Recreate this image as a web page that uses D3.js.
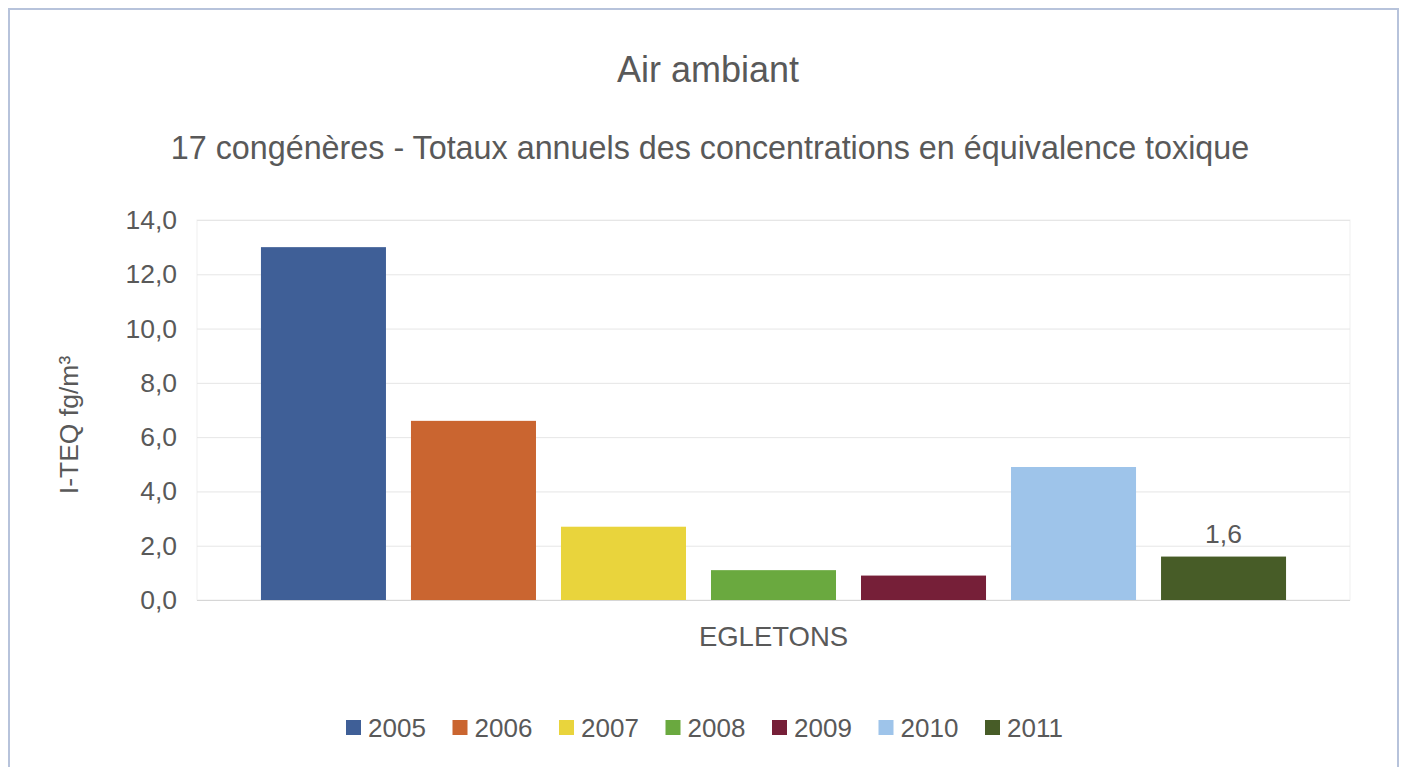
<!DOCTYPE html>
<html>
<head>
<meta charset="utf-8">
<script src="https://cdn.jsdelivr.net/npm/d3@7"></script>
<style>
  html, body { margin: 0; padding: 0; background: #fff; }
  text { font-family: "Liberation Sans", Arial, sans-serif; fill: #595959; }
</style>
</head>
<body>
<svg id="chart" width="1408" height="767"></svg>
<script>
// values
const site = ["EGLETONS"]
const years = ["2005", "2006", "2007", "2008", "2009", "2010", "2011"]
const values = [13.0, 6.6, 2.7, 1.1, 0.9, 4.9, 1.6]
const colors = ["#3f5f97", "#ca6530", "#e9d43c", "#6aa93f", "#761f38", "#9ec4ea", "#475c27"]
const labelled = ["2011"]
const yTicks = [0, 2, 4, 6, 8, 10, 12, 14]

const svg = d3.select("#chart")
const plot = {left: 197, right: 1350, top: 220, bottom: 600}

// frame around the whole chart
svg.append("rect")
    .attr("x", 9).attr("y", 9)
    .attr("width", 1389).attr("height", 790)
    .attr("fill", "#fff")
    .attr("stroke", "#b7c3db")
    .attr("stroke-width", 2)

svg.append("text")
    .attr("x", 708).attr("y", 82)
    .attr("text-anchor", "middle")
    .style("font-size", "36px")
    .text("Air ambiant")

svg.append("text")
    .attr("x", 710).attr("y", 159)
    .attr("text-anchor", "middle")
    .style("font-size", "32.3px")
    .text("17 congénères - Totaux annuels des concentrations en équivalence toxique")

const y = d3.scaleLinear().domain([0, 14]).range([plot.bottom, plot.top])

const x0 = d3.scaleBand().domain(site)
    .range([plot.left, plot.right])
    .paddingInner(0).paddingOuter(0.049)

const x1 = d3.scaleBand().domain(years)
    .range([0, x0.bandwidth()])
    .paddingInner(1 / 6).paddingOuter(1 / 12)

// plot area border (very faint)
svg.append("rect")
    .attr("x", plot.left).attr("y", plot.top)
    .attr("width", plot.right - plot.left).attr("height", plot.bottom - plot.top)
    .attr("fill", "none")
    .attr("stroke", "#efefef")

// y axis with gridlines
const yAxis = svg.append("g")
    .attr("transform", `translate(${plot.left},0)`)
    .call(d3.axisLeft(y)
        .tickValues(yTicks)
        .tickSize(-(plot.right - plot.left))
        .tickPadding(20)
        .tickFormat(d => d.toFixed(1).replace(".", ",")))
yAxis.select(".domain").remove()
yAxis.selectAll(".tick line").attr("stroke", d => d === 0 ? "#d6d6d6" : "#e6e6e6")
yAxis.selectAll(".tick text")
    .style("font-size", "26.5px")
    .style("font-family", "'Liberation Sans', Arial, sans-serif")
    .attr("fill", "#595959")

svg.append("text")
    .attr("transform", `translate(78,425) rotate(-90)`)
    .attr("text-anchor", "middle")
    .style("font-size", "26.5px")
    .text("I-TEQ fg/m³")

// x axis category label
const xAxis = svg.append("g")
    .attr("transform", `translate(0,${plot.bottom})`)
    .call(d3.axisBottom(x0).tickSize(0).tickPadding(26))
xAxis.select(".domain").remove()
xAxis.selectAll(".tick text")
    .style("font-size", "27.5px")
    .style("font-family", "'Liberation Sans', Arial, sans-serif")
    .attr("fill", "#595959")

// bars
const group = svg.append("g")
    .attr("transform", `translate(${x0("EGLETONS")},0)`)

group.selectAll("rect")
    .data(years)
    .join("rect")
    .attr("x", d => x1(d))
    .attr("y", (d, i) => y(values[i]))
    .attr("width", x1.bandwidth())
    .attr("height", (d, i) => y(0) - y(values[i]))
    .attr("fill", (d, i) => colors[i])

group.selectAll("text.value")
    .data(years.filter(d => labelled.includes(d)))
    .join("text")
    .attr("class", "value")
    .attr("x", d => x1(d) + x1.bandwidth() / 2)
    .attr("y", d => y(values[years.indexOf(d)]) - 14)
    .attr("text-anchor", "middle")
    .style("font-size", "26.5px")
    .text(d => values[years.indexOf(d)].toFixed(1).replace(".", ","))

// legend
const itemW = 106.5
const legend = svg.append("g")
    .attr("transform", "translate(346,0)")

const item = legend.selectAll("g")
    .data(years)
    .join("g")
    .attr("transform", (d, i) => `translate(${i * itemW},0)`)

item.append("rect")
    .attr("x", 0).attr("y", 720)
    .attr("width", 15).attr("height", 15)
    .attr("fill", (d, i) => colors[i])

item.append("text")
    .attr("x", 22).attr("y", 737)
    .style("font-size", "26px")
    .text(d => d)
</script>
</body>
</html>
